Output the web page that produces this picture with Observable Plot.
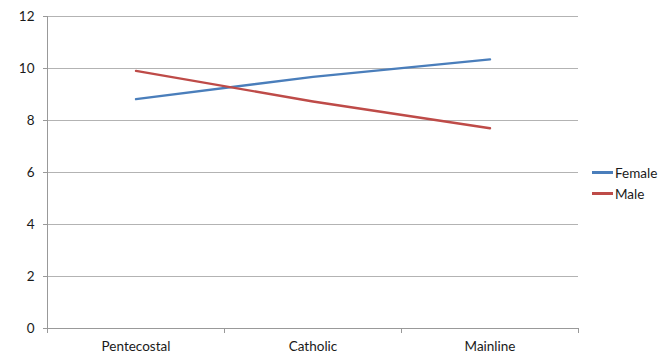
<!DOCTYPE html>
<html>
<head>
<meta charset="utf-8">
<script src="https://cdn.jsdelivr.net/npm/d3@7"></script>
<script src="https://cdn.jsdelivr.net/npm/@observablehq/plot@0.6"></script>
<style>
  html, body { margin: 0; padding: 0; background: #fff; }
  #chart { position: relative; width: 664px; height: 354px; font-family: Lato, "Open Sans", sans-serif; }
  #legend { position: absolute; left: 592px; top: 162px; font-size: 13.5px; color: #1a1a1a; }
  #legend .item { display: flex; align-items: center; height: 21px; }
  #legend .swatch { width: 21px; height: 2.5px; margin-right: 2px; }
</style>
</head>
<body>
<div id="chart"></div>
<script>
// Religious tradition groups along the x axis
const categories = ["Pentecostal", "Catholic", "Mainline"];
// Mean scores by group for each sex
const female = [8.82, 9.68, 10.35];
const male = [9.91, 8.73, 7.70];
const yTicks = [0, 2, 4, 6, 8, 10, 12];

const seriesNames = ["Female", "Male"];
const seriesColors = ["#4a7ebb", "#be4b48"];

const rows = [
  ...categories.map((c, i) => ({group: c, value: female[i], sex: "Female"})),
  ...categories.map((c, i) => ({group: c, value: male[i], sex: "Male"}))
];

const plot = Plot.plot({
  width: 664,
  height: 354,
  marginLeft: 47,
  marginRight: 86,
  marginTop: 16,
  marginBottom: 26,
  style: {fontFamily: "Lato, 'Open Sans', sans-serif", fontSize: "13.5px", color: "#1a1a1a"},
  x: {type: "band", domain: categories, padding: 0, label: null},
  y: {domain: [0, 12], ticks: yTicks, label: null},
  color: {domain: seriesNames, range: seriesColors},
  marks: [
    Plot.gridY(yTicks, {stroke: "#b3b3b3", strokeOpacity: 1}),
    Plot.axisY(yTicks, {tickSize: 4, tickPadding: 9, stroke: "#999", tickFormat: d => d, fontSize: 13.5}),
    Plot.axisX({tickSize: 0, tickPadding: 13, fontSize: 13.5}),
    Plot.line(rows, {x: "group", y: "value", z: "sex", stroke: "sex", strokeWidth: 2.4})
  ]
});

document.getElementById("chart").appendChild(plot);

// Excel-style category axis: vertical axis line and tick marks at band edges
const xs = plot.scale("x");
const ys = plot.scale("y");
const svg = d3.select(plot);
const y0 = ys.apply(0);
const edges = categories.map(c => xs.apply(c)).concat([xs.apply(categories[categories.length - 1]) + xs.bandwidth]);
const g = svg.append("g").attr("stroke", "#999").attr("shape-rendering", "crispEdges");
g.append("line").attr("x1", edges[0]).attr("x2", edges[0]).attr("y1", ys.apply(12)).attr("y2", y0);
g.append("line").attr("x1", edges[0]).attr("x2", edges[edges.length - 1]).attr("y1", y0).attr("y2", y0);
g.selectAll(".edge").data(edges).join("line")
  .attr("x1", d => d).attr("x2", d => d).attr("y1", y0).attr("y2", y0 + 5);

// Legend
const legend = document.createElement("div");
legend.id = "legend";
seriesNames.forEach((name, i) => {
  const item = document.createElement("div");
  item.className = "item";
  item.innerHTML = `<span class="swatch" style="background:${seriesColors[i]}"></span><span>${name}</span>`;
  legend.appendChild(item);
});
document.getElementById("chart").appendChild(legend);
</script>
</body>
</html>
